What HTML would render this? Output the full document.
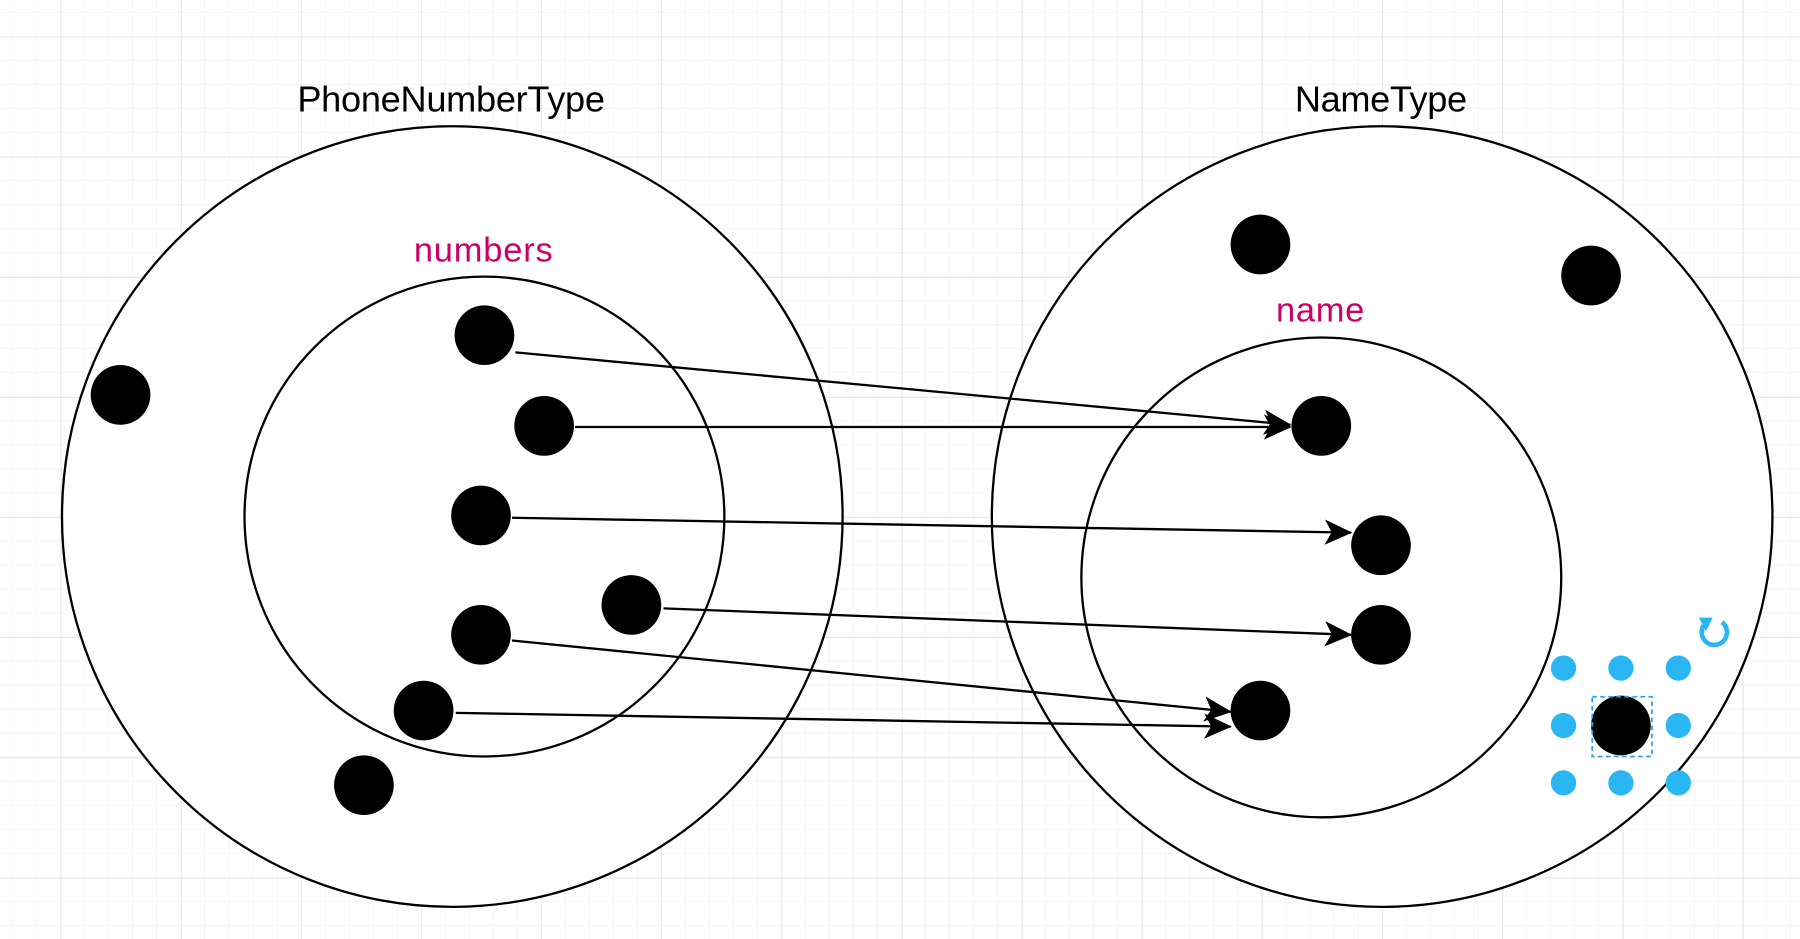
<!DOCTYPE html>
<html><head><meta charset="utf-8"><style>
html,body{margin:0;padding:0;background:#fff;}
svg{display:block;}
text{font-family:"Liberation Sans",sans-serif;}
</style></head><body>
<svg width="1800" height="939" viewBox="0 0 1568 818" preserveAspectRatio="none" xmlns="http://www.w3.org/2000/svg">
<defs>
<pattern id="minor" x="53" y="32" width="20.93" height="20.93" patternUnits="userSpaceOnUse">
<path d="M20.93 0V20.93M0 20.93H20.93" fill="none" stroke="#f0f0f0" stroke-width="1"/>
</pattern>
<pattern id="major" x="53" y="32" width="104.66" height="104.66" patternUnits="userSpaceOnUse">
<path d="M0 0V104.66M0 0H104.66" fill="none" stroke="#dcdcdc" stroke-width="1"/>
</pattern>
<marker id="ah" markerWidth="24" markerHeight="22" refX="23" refY="11" orient="auto" markerUnits="userSpaceOnUse" viewBox="0 0 24 22">
<path d="M0 0L24 11L0 22L6 11Z" fill="#000"/>
</marker>
</defs>
<rect width="1568" height="818" fill="#fff"/>
<rect width="1568" height="818" fill="url(#minor)"/>
<rect width="1568" height="818" fill="url(#major)"/>
<g fill="#fff" stroke="#000" stroke-width="2">
<circle cx="394" cy="450" r="340"/>
<circle cx="1204" cy="450" r="340"/>
</g>
<g fill="none" stroke="#000" stroke-width="2">
<circle cx="422" cy="450" r="209"/>
<circle cx="1151" cy="503" r="209"/>
</g>
<g font-size="31.5" text-anchor="middle">
<text x="393" y="97" fill="#000" textLength="268">PhoneNumberType</text>
<text x="1203" y="97" fill="#000" textLength="150">NameType</text>
<text x="421" y="228" fill="#cc0066" font-size="30" textLength="121">numbers</text>
<text x="1150" y="280" fill="#cc0066" font-size="30" textLength="77">name</text>
</g>
<g fill="#000">
<circle cx="422" cy="292" r="26"/><circle cx="474" cy="371" r="26"/><circle cx="419" cy="449" r="26"/>
<circle cx="550" cy="527" r="26"/><circle cx="419" cy="553" r="26"/><circle cx="369" cy="619" r="26"/>
<circle cx="105" cy="344" r="26"/><circle cx="317" cy="684" r="26"/>
<circle cx="1098" cy="213" r="26"/><circle cx="1386" cy="240" r="26"/><circle cx="1151" cy="371" r="26"/>
<circle cx="1203" cy="475" r="26"/><circle cx="1203" cy="553" r="26"/><circle cx="1098" cy="619" r="26"/>
<circle cx="1412" cy="632" r="26"/>
</g>
<g stroke="#000" stroke-width="2" fill="none" marker-end="url(#ah)">
<line x1="449" y1="307" x2="1124" y2="370"/>
<line x1="501" y1="372" x2="1124" y2="372"/>
<line x1="446" y1="451" x2="1177" y2="464"/>
<line x1="578" y1="530" x2="1177" y2="553"/>
<line x1="446" y1="558" x2="1072" y2="620"/>
<line x1="397" y1="621" x2="1072" y2="633"/>
</g>
<rect x="1387" y="607" width="52" height="52" fill="none" stroke="#29a3e0" stroke-width="1.5" stroke-dasharray="4 3"/>
<g fill="#29b6f2">
<circle cx="1362" cy="582" r="11"/><circle cx="1412" cy="582" r="11"/><circle cx="1462" cy="582" r="11"/>
<circle cx="1362" cy="632" r="11"/><circle cx="1462" cy="632" r="11"/>
<circle cx="1362" cy="682" r="11"/><circle cx="1412" cy="682" r="11"/><circle cx="1462" cy="682" r="11"/>
</g>
<path d="M1500 542 A11 11 0 1 1 1484 545" fill="none" stroke="#29b6f2" stroke-width="4"/>
<path d="M1480 538 L1492 538 L1486 550 Z" fill="#29b6f2"/>
</svg>
</body></html>
